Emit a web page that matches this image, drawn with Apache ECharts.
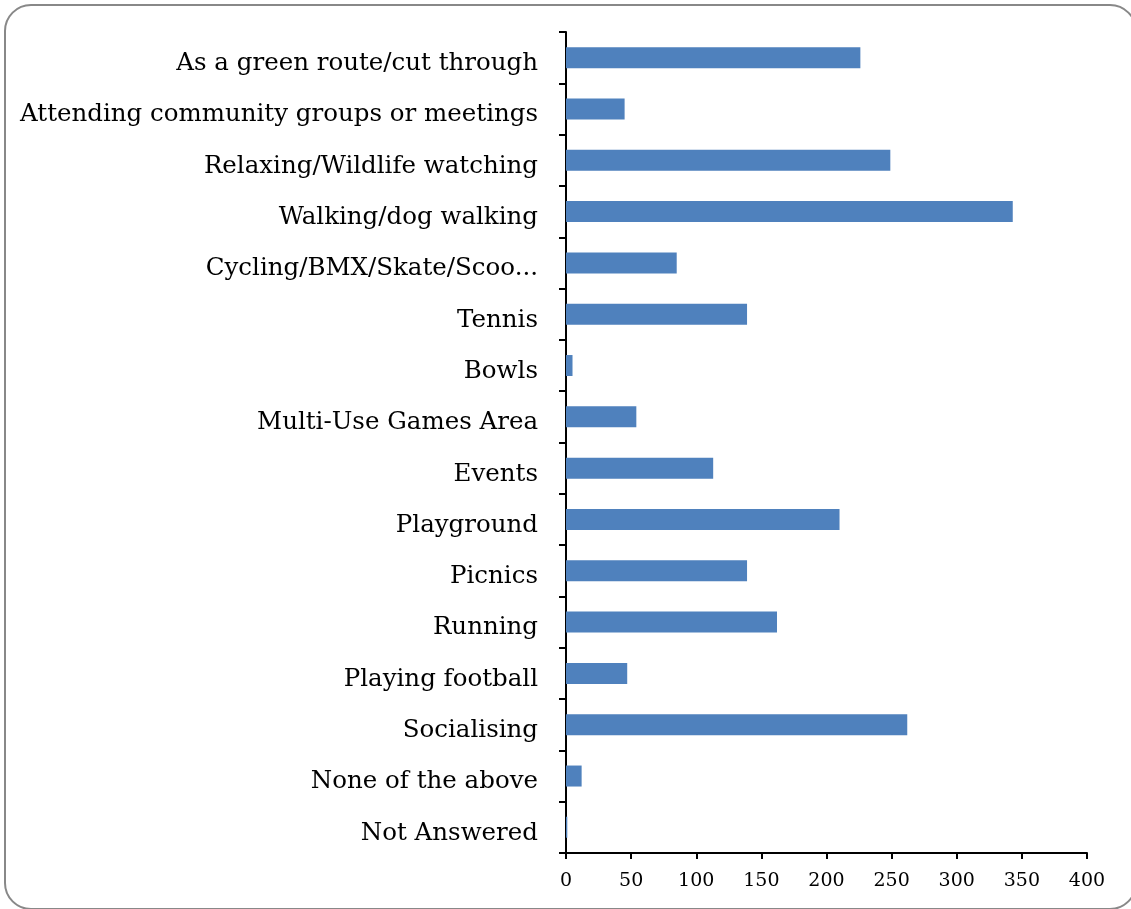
<!DOCTYPE html>
<html>
<head>
<meta charset="utf-8">
<script src="https://cdn.jsdelivr.net/npm/echarts@6/dist/echarts.min.js"></script>
<style>
  html, body { margin: 0; padding: 0; background: #fff; }
  #chart { width: 1131px; height: 909px; }
</style>
</head>
<body>
<div id="chart"></div>
<script>
const categories = [
  'As a green route/cut through',
  'Attending community groups or meetings',
  'Relaxing/Wildlife watching',
  'Walking/dog walking',
  'Cycling/BMX/Skate/Scoo...',
  'Tennis',
  'Bowls',
  'Multi-Use Games Area',
  'Events',
  'Playground',
  'Picnics',
  'Running',
  'Playing football',
  'Socialising',
  'None of the above',
  'Not Answered'
];
const counts = [226, 45, 249, 343, 85, 139, 5, 54, 113, 210, 139, 162, 47, 262, 12, 1];
const xTicks = [0, 50, 100, 150, 200, 250, 300, 350, 400];

let myChart = echarts.init(document.getElementById('chart'));
const option = {
  animation: false,
  // rounded frame around the chart
  graphic: [{
    type: 'rect',
    shape: { x: 5, y: 5, width: 1131, height: 904, r: 26 },
    style: { fill: 'none', stroke: '#888', lineWidth: 2 },
    silent: true
  }],
  grid: { left: 566, right: 44, top: 32, bottom: 56 },
  xAxis: {
    type: 'value',
    min: xTicks[0],
    max: xTicks[xTicks.length - 1],
    interval: 50,
    splitLine: { show: false },
    axisLine: { show: true, lineStyle: { color: '#000', width: 2 } },
    axisTick: { show: true, length: 6, lineStyle: { color: '#000', width: 2 } },
    axisLabel: {
      color: '#000',
      fontFamily: 'DejaVu Serif, serif',
      fontSize: 19,
      margin: 19
    }
  },
  yAxis: {
    type: 'category',
    inverse: true,
    data: categories,
    axisLine: { show: true, lineStyle: { color: '#000', width: 2 } },
    axisTick: { show: true, length: 7, lineStyle: { color: '#000', width: 2 } },
    axisLabel: {
      color: '#000',
      fontFamily: 'DejaVu Serif, serif',
      fontSize: 24.5,
      margin: 28,
      verticalAlign: 'top',
      lineHeight: 12
    }
  },
  series: [{
    type: 'bar',
    data: counts,
    barWidth: 21,
    itemStyle: { color: '#4f81bd' }
  }]
};
myChart.setOption(option);
</script>
</body>
</html>
